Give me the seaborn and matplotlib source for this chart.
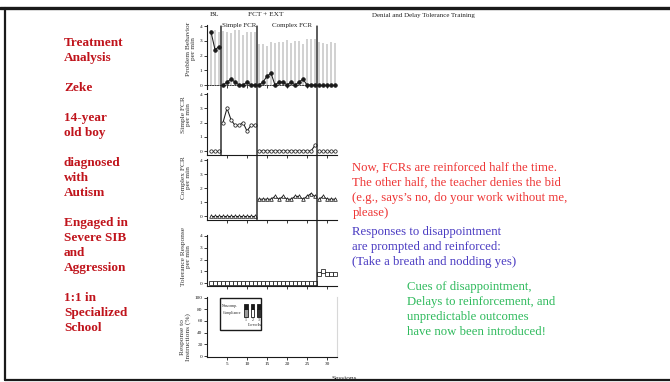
import matplotlib
matplotlib.use("Agg")
import matplotlib.pyplot as plt
import seaborn as sns
import pandas as pd
from matplotlib.patches import Rectangle, ConnectionPatch
from matplotlib.lines import Line2D

# ---------------- data ----------------
sessions = list(range(1, 33))
phase = [0] * 3 + [1] * 9 + [2] * 15 + [3] * 5
phase_breaks = [3.5, 12.5, 27.5]

pb_bars = [3.7, 3.7, 3.6,
           3.65, 3.6, 3.5, 3.7, 3.75, 3.4, 3.6, 3.6, 3.6,
           2.75, 2.75, 2.65, 2.95, 2.85, 2.95, 2.9, 3.05, 2.85, 3.0, 3.0, 2.8, 3.1, 3.15, 3.1,
           2.9, 2.85, 2.75, 2.9, 2.85]
problem_behavior = [3.6, 2.4, 2.6,
                    0, 0.2, 0.4, 0.2, 0, 0, 0.2, 0, 0,
                    0, 0.2, 0.6, 0.8, 0, 0.2, 0.2, 0, 0.2, 0, 0.2, 0.4, 0, 0, 0,
                    0, 0, 0, 0, 0]
simple_fcr = [0, 0, 0,
              2.0, 3.0, 2.2, 1.8, 1.8, 2.0, 1.4, 1.8, 1.8,
              0, 0, 0, 0, 0, 0, 0, 0, 0, 0, 0, 0, 0, 0, 0.4,
              0, 0, 0, 0, 0]
complex_fcr = [0] * 12 + [1.2, 1.2, 1.2, 1.2, 1.4, 1.2, 1.4, 1.2, 1.2, 1.4, 1.4, 1.2, 1.4, 1.6, 1.4,
                          1.2, 1.4, 1.2, 1.2, 1.2]
tolerance = [0] * 27 + [0.8, 1.0, 0.8, 0.8, 0.8]

phase_titles = ["BL", "FCT + EXT", "Simple FCR", "Complex FCR", "Denial and Delay Tolerance Training"]
ylabels = ["Problem Behavior\nper min", "Simple FCR\nper min", "Complex FCR\nper min",
           "Tolerance Response\nper min", "Response to\nInstructions (%)"]
x_ticks = [5, 10, 15, 20, 25, 30]
pct_ticks = [0, 20, 40, 60, 80, 100]
rate_ticks = [0, 1, 2, 3, 4]

left_lines = ["Treatment", "Analysis", "", "Zeke", "", "14-year", "old boy", "",
              "diagnosed", "with", "Autism", "", "Engaged in", "Severe SIB", "and",
              "Aggression", "", "1:1 in", "Specialized", "School"]
red_lines = ["Now, FCRs are reinforced half the time.",
             "The other half, the teacher denies the bid",
             "(e.g., says\u2019s no, do your work without me,",
             "please)"]
blue_lines = ["Responses to disappointment",
              "are prompted and reinforced:",
              "(Take a breath and nodding yes)"]
green_lines = ["Cues of disappointment,",
               "Delays to reinforcement, and",
               "unpredictable outcomes",
               "have now been introduced!"]

# ---------------- style ----------------
sns.set_theme(style="ticks")
plt.rcParams["font.family"] = ["Liberation Serif", "DejaVu Serif"]

W, H = 670, 382
fig = plt.figure(figsize=(W / 100, H / 100), dpi=100)
fig.patch.set_facecolor("white")


def axes_px(x0, y_top, x1, y_bot):
    return fig.add_axes([x0 / W, 1 - y_bot / H, (x1 - x0) / W, (y_bot - y_top) / H])


def ftext(x, y, s, **kw):
    fig.text(x / W, 1 - y / H, s, **kw)


ax1 = axes_px(207, 25.3, 337, 88.7)
ax2 = axes_px(207, 93.3, 337, 154.6)
ax3 = axes_px(207, 159.3, 337, 219.5)
ax4 = axes_px(207, 235.4, 337, 286.0)
ax5 = axes_px(207, 297.0, 337, 357.2)
axes = [ax1, ax2, ax3, ax4, ax5]
rate_ylim = (-0.25, 4.05)

# bars of panel 1
sns.barplot(x=sessions, y=pb_bars, native_scale=True, color="#D2D2D2", saturation=1,
            width=0.7, linewidth=0, errorbar=None, ax=ax1)


def seg_ids(breaks):
    return [sum(1 for b in breaks if b < s) for s in sessions]


series = [
    (ax1, problem_behavior, phase_breaks, dict(marker="o", markerfacecolor="k", markersize=2.6)),
    (ax2, simple_fcr, phase_breaks, dict(marker="o", markerfacecolor="white", markersize=2.4)),
    (ax3, complex_fcr, phase_breaks[1:], dict(marker="^", markerfacecolor="white", markersize=2.6)),
    (ax4, tolerance, phase_breaks[2:], dict(marker="s", markerfacecolor="white", markersize=2.4)),
]
for ax, vals, brks, mk in series:
    df = pd.DataFrame({"session": sessions, "value": vals, "seg": seg_ids(brks)})
    sns.lineplot(data=df, x="session", y="value", units="seg", estimator=None,
                 color="k", linewidth=0.75, markeredgecolor="k", markeredgewidth=0.55,
                 ax=ax, **mk)

for i, ax in enumerate(axes):
    ax.set_xlim(0, 32.5)
    ax.set_xticks(x_ticks)
    ax.set_facecolor("none")
    sns.despine(ax=ax)
    ax.set_xlabel("")
    ax.tick_params(length=2, width=0.6, labelsize=3.8, pad=1.2, colors="k")
    for s in ["left", "bottom"]:
        ax.spines[s].set_linewidth(0.8)
        ax.spines[s].set_color("k")
    if i < 4:
        ax.set_ylim(*rate_ylim)
        ax.set_yticks(rate_ticks)
        ax.set_xticklabels([])
    ax.set_ylabel(ylabels[i], fontsize=5.3, color="#333333", linespacing=1.0)

ax1.spines["bottom"].set_position(("data", 0))
ax1.spines["bottom"].set_linestyle((0, (1.5, 1.5)))
ax1.spines["bottom"].set_linewidth(0.6)

ax5.set_ylim(-2, 101)
ax5.set_yticks(pct_ticks)
ax5.set_xticklabels([str(t) for t in x_ticks])
ax5.spines["right"].set_visible(True)
ax5.spines["right"].set_color("#D8D8D8")
ax5.spines["right"].set_linewidth(0.8)

label_coords = [(-0.085, 0.63), (-0.125, 0.66), (-0.125, 0.69), (-0.125, 0.59), (-0.125, 0.34)]
for ax, (lx, ly) in zip(axes, label_coords):
    ax.yaxis.set_label_coords(lx, ly)

# phase change lines
last_panel = [ax2, ax3, ax4]
for b, axb in zip(phase_breaks, last_panel):
    cp = ConnectionPatch(xyA=(b, 4.0), coordsA=ax1.transData,
                         xyB=(b, rate_ylim[0]), coordsB=axb.transData,
                         color="k", linewidth=1.0)
    fig.add_artist(cp)

# inset legend of panel 5
T = ax5.transAxes
ax5.add_patch(Rectangle((0.10, 0.45), 0.315, 0.53, transform=T, fill=False,
                        edgecolor="k", linewidth=1.0, clip_on=False))
ax5.text(0.235, 0.855, "Noncomp.", transform=T, fontsize=2.8, ha="right", va="center")
ax5.text(0.262, 0.73, "Compliance", transform=T, fontsize=2.8, ha="right", va="center")
for j, (xc, fc) in enumerate(zip([0.30, 0.352, 0.40], ["#9A9A9A", "white", "#333333"])):
    ax5.add_patch(Rectangle((xc - 0.012, 0.668), 0.024, 0.13, transform=T,
                            facecolor=fc, edgecolor="k", linewidth=0.6))
    ax5.add_patch(Rectangle((xc - 0.012, 0.798), 0.024, 0.09, transform=T,
                            facecolor="k", edgecolor="k", linewidth=0.6))
    ax5.text(xc, 0.61, str(j + 1), transform=T, fontsize=2.8, ha="center", va="center")
ax5.text(0.365, 0.53, "Levels", transform=T, fontsize=3.8, ha="center", va="center")

# phase titles
ftext(214, 14, phase_titles[0], fontsize=5.3, ha="center", va="center", color="#222222")
ftext(266, 14, phase_titles[1], fontsize=5.3, ha="center", va="center", color="#222222")
ftext(239, 25, phase_titles[2], fontsize=5.0, ha="center", va="center", color="#222222")
ftext(291.5, 25, phase_titles[3], fontsize=5.0, ha="center", va="center", color="#222222")
ftext(372, 15, phase_titles[4], fontsize=5.0, ha="left", va="center", color="#222222")
ftext(332, 378, "Sessions", fontsize=5.3, ha="left", va="center", color="#222222")

# slide texts
y = 43
for ln in left_lines:
    if ln:
        ftext(64, y, ln, fontsize=9.5, fontweight="bold", color="#C0141C", ha="left", va="center")
    y += 15
for k, ln in enumerate(red_lines):
    ftext(352.5, 167.3 + 15.3 * k, ln, fontsize=9.2, color="#EE3535", ha="left", va="center")
for k, ln in enumerate(blue_lines):
    ftext(352.5, 231.7 + 15.3 * k, ln, fontsize=9.2, color="#4A3BC2", ha="left", va="center")
for k, ln in enumerate(green_lines):
    ftext(407.3, 286.7 + 15.2 * k, ln, fontsize=9.2, color="#2EBA5C", ha="left", va="center")

# slide frame
fig.add_artist(Line2D([0, 1], [1 - 7.5 / H, 1 - 7.5 / H], transform=fig.transFigure,
                      color="k", linewidth=2.4))
fig.add_artist(Line2D([5 / W, 5 / W], [1 - 7.5 / H, 1 - 380 / H], transform=fig.transFigure,
                      color="k", linewidth=1.6))
fig.add_artist(Line2D([5 / W, 1], [1 - 380 / H, 1 - 380 / H], transform=fig.transFigure,
                      color="k", linewidth=1.6))

fig.savefig("out.png", dpi=100)
